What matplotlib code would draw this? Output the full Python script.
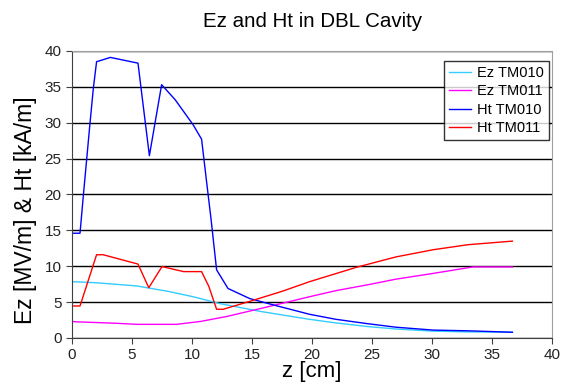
import matplotlib
matplotlib.use("Agg")
import matplotlib.pyplot as plt

plt.rcParams['font.family'] = ['Liberation Sans', 'DejaVu Sans']

# values (z in cm)
z_ez010 = [0, 2, 5.4, 8, 10.1, 12.3, 15.7, 19.8, 22, 24.6, 27, 30.1, 33, 36.7]
ez_tm010 = [7.85, 7.7, 7.25, 6.5, 5.75, 4.8, 3.7, 2.6, 2.1, 1.6, 1.25, 0.95, 0.85, 0.8]

z_ez011 = [0, 0.4, 3.7, 5.4, 8.7, 10.7, 12.9, 15.7, 19.8, 22, 24.6, 27, 30.1, 33.4, 36.7]
ez_tm011 = [2.3, 2.25, 2.05, 1.9, 1.9, 2.3, 3.0, 4.1, 5.75, 6.6, 7.4, 8.2, 9.0, 9.9, 9.9]

z_ht010 = [0, 0.67, 0.95, 1.5, 1.78, 2.05, 3.2, 5.5, 6.45, 7.47, 8.6, 10.1, 10.8,
           11.2, 11.6, 12.05, 13.0, 14.8, 16.8, 19.8, 22, 24.6, 27, 30.1, 33, 36.7]
ht_tm010 = [14.6, 14.6, 19.9, 29.9, 34.8, 38.5, 39.1, 38.3, 25.4, 35.3, 33.2, 29.7, 27.7,
            22.0, 16.4, 9.5, 6.9, 5.5, 4.6, 3.3, 2.6, 2.0, 1.5, 1.1, 1.0, 0.8]

z_ht011 = [0, 0.67, 2.05, 2.6, 5.5, 6.4, 7.5, 9.3, 10.8, 11.4, 12.05, 12.6,
           15, 17.5, 19.8, 23.7, 27, 30.1, 33, 36.7]
ht_tm011 = [4.46, 4.46, 11.6, 11.6, 10.3, 7.0, 9.95, 9.25, 9.25, 7.2, 4.0, 4.0,
            5.2, 6.5, 7.85, 9.85, 11.3, 12.3, 13.0, 13.5]

fig = plt.figure(figsize=(5.61, 3.92), dpi=100)
ax = fig.add_axes([0.1283, 0.1378, 0.8557, 0.7322])

ax.plot(z_ez010, ez_tm010, color='#33ccff', lw=1, label='Ez TM010')
ax.plot(z_ez011, ez_tm011, color='#ff00ff', lw=1, label='Ez TM011')
ax.plot(z_ht010, ht_tm010, color='#0000ff', lw=1, label='Ht TM010')
ax.plot(z_ht011, ht_tm011, color='#ff0000', lw=1, label='Ht TM011')

ax.set_xlim(0, 40)
ax.set_ylim(0, 40)
ax.set_xticks(range(0, 41, 5))
ax.set_yticks(range(0, 41, 5))
ax.yaxis.grid(True, color='black', lw=1)
ax.set_axisbelow(True)
ax.tick_params(labelsize=11, direction='out', length=4, colors='#404040', labelcolor='#222222')

for side in ['top', 'right']:
    ax.spines[side].set_color('#a0a0a0')
ax.spines['left'].set_color('#404040')
ax.spines['bottom'].set_color('#404040')

ax.set_title('Ez and Ht in DBL Cavity', fontsize=14.8, pad=17)
ax.set_xlabel('z [cm]', fontsize=16, labelpad=-1)
ax.set_ylabel('Ez [MV/m] & Ht [kA/m]', fontsize=16.5, labelpad=2)
ax.yaxis.set_label_coords(-0.072, 0.446)

leg = ax.legend(loc='upper right', bbox_to_anchor=(0.994, 0.965), fontsize=10.5,
                frameon=True, fancybox=False, edgecolor='black', handlelength=1.5,
                handletextpad=0.4, borderpad=0.35, labelspacing=0.3, borderaxespad=0)
leg.get_frame().set_linewidth(1)

fig.savefig('out.png', dpi=100)
